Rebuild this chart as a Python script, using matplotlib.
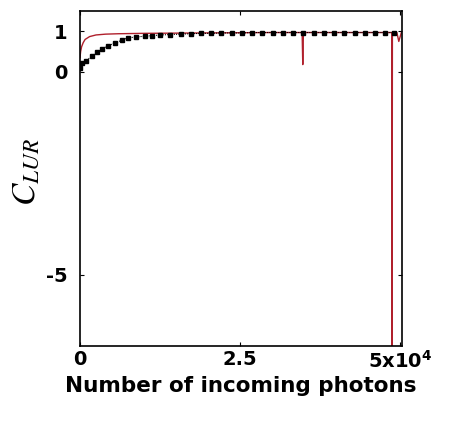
import matplotlib
matplotlib.use("Agg")
import matplotlib.pyplot as plt

# Black squares series
black_x = [0, 250, 1000, 1800, 2600, 3400, 4400, 5500, 6500, 7500, 8800, 10100, 11200,
           12500, 14100, 15700, 17300, 18900, 20500, 22100, 23700, 25300, 26900, 28500,
           30100, 31700, 33300, 34900, 36500, 38100, 39700, 41300, 42900, 44500, 46100,
           47700, 49000]
black_y = [0.10, 0.23, 0.28, 0.38, 0.48, 0.56, 0.65, 0.71, 0.78, 0.84, 0.86, 0.88, 0.89,
           0.91, 0.92, 0.93, 0.94, 0.95, 0.95, 0.96, 0.96, 0.96, 0.97, 0.97,
           0.97, 0.97, 0.97, 0.97, 0.97, 0.97, 0.97, 0.97, 0.97, 0.97, 0.97,
           0.97, 0.97]

# Red line series
red_x = [0, 100, 250, 500, 800, 1500, 2500, 4000, 6000, 10000, 20000, 30000, 34700,
         34800, 34900, 40000, 48700, 48750, 48800, 49500, 49800, 50200]
red_y = [0.35, 0.50, 0.62, 0.72, 0.80, 0.87, 0.91, 0.93, 0.94, 0.95, 0.96, 0.97, 0.97,
         0.18, 0.97, 0.97, 0.97, -7.5, 0.97, 0.97, 0.75, 0.97]

xticks = [0, 25000, 50000]
xticklabels = ["0", "2.5", r"5x10$^{\mathbf{4}}$"]
yticks = [-5, 0, 1]
yticklabels = ["-5", "0", "1"]

plt.rcParams['font.family'] = ['DejaVu Sans']
plt.rcParams['mathtext.fontset'] = 'custom'
plt.rcParams['mathtext.rm'] = 'DejaVu Sans:bold'
plt.rcParams['mathtext.bf'] = 'DejaVu Sans:bold'

fig = plt.figure(figsize=(4.54, 4.21), dpi=100)
ax = fig.add_axes([80/454, 1 - 346/421, (402-80)/454, (346-11)/421])

ax.plot(red_x, red_y, color='#b0202c', lw=1.0, zorder=2)
ax.plot(black_x, black_y, color='black', lw=0.8, marker='s', markersize=3.3,
        markerfacecolor='black', markeredgecolor='black', linestyle=(0, (1, 1)), zorder=3)

ax.set_xlim(0, 50300)
ax.set_ylim(-6.75, 1.5)
ax.set_xticks(xticks)
ax.set_xticklabels(xticklabels, fontsize=14, fontweight='bold')
ax.set_yticks(yticks)
ax.set_yticklabels(yticklabels, fontsize=14, fontweight='bold')
ax.tick_params(direction='in', length=3, width=0.8, top=True, right=True)
ax.tick_params(axis='x', pad=3)
ax.tick_params(axis='y', pad=9)
for s in ax.spines.values():
    s.set_linewidth(1.2)

ax.set_xlabel("Number of incoming photons", fontsize=15.5, fontweight='bold', labelpad=3)
ax.text(-0.17, 0.52, r"$\mathit{C}_{\mathit{LUR}}$", transform=ax.transAxes, rotation=90,
        fontsize=24, family='DejaVu Serif', ha='center', va='center',
        math_fontfamily='stix')

fig.savefig("out.png", dpi=100)
